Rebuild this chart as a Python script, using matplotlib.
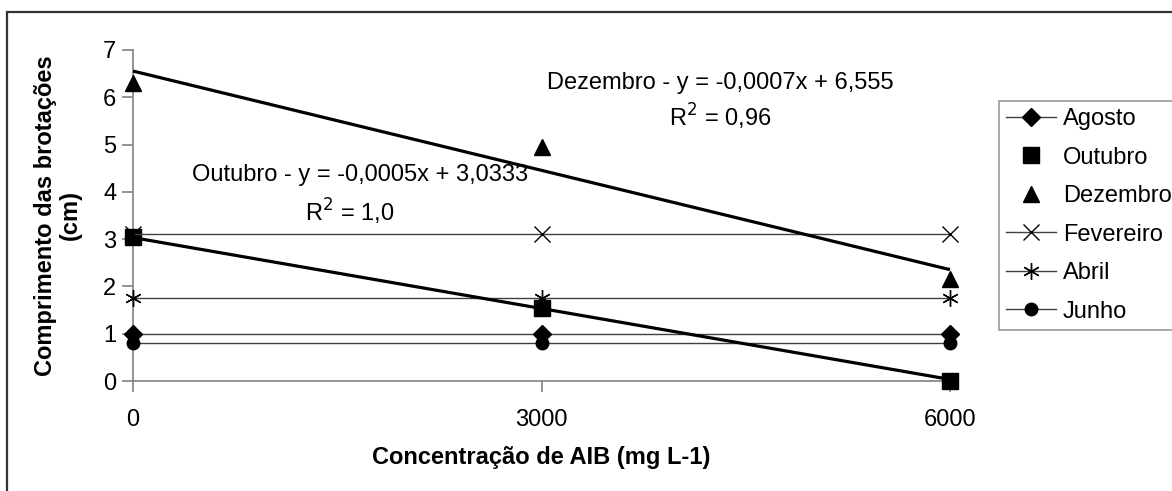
import matplotlib.pyplot as plt
from matplotlib.patches import Rectangle

plt.rcParams['font.family'] = ['Liberation Sans', 'DejaVu Sans']

concentracao = [0, 3000, 6000]
meses = ['Agosto', 'Outubro', 'Dezembro', 'Fevereiro', 'Abril', 'Junho']
agosto = [1.0, 1.0, 1.0]
outubro = [3.05, 1.55, 0.0]
dezembro = [6.3, 4.95, 2.15]
fevereiro = [3.1, 3.1, 3.1]
abril = [1.75, 1.75, 1.75]
junho = [0.8, 0.8, 0.8]

# trend lines (slope, intercept)
trend_outubro = (-0.0005, 3.0333)
trend_dezembro = (-0.0007, 6.555)

W, H = 1172, 491
FS = 17
fig = plt.figure(figsize=(W / 100, H / 100), dpi=100)
ax = fig.add_axes([133 / W, 110 / H, (950 - 133) / W, (381 - 50) / H])

gray = '#808080'
line_c = '#404040'

series = [
    (agosto, 'D', 9, '-'),
    (outubro, 's', 11, 'none'),
    (dezembro, '^', 12, 'none'),
    (fevereiro, 'x', 12, '-'),
    (abril, (6, 2, 0), 12, '-'),
    (junho, 'o', 9, '-'),
]
for name, (vals, m, ms, ls) in zip(meses, series):
    ax.plot(concentracao, vals, linestyle=ls, color=line_c, lw=1.0,
            marker=m, markersize=ms, markerfacecolor='black',
            markeredgecolor='black', markeredgewidth=1.0,
            label=name, clip_on=False, zorder=4)

for slope, inter in [trend_dezembro, trend_outubro]:
    xs = [concentracao[0], concentracao[-1]]
    ax.plot(xs, [slope * x + inter for x in xs], color='black', lw=2.3,
            solid_capstyle='butt', clip_on=False, zorder=5)

ax.set_xlim(0, 6000)
ax.set_ylim(0, 7)
ax.set_xticks(concentracao)
ax.set_yticks(range(8))
ax.tick_params(axis='both', labelsize=FS, colors=gray, labelcolor='black',
               length=8, width=1.2)
ax.tick_params(axis='x', pad=12)
ax.tick_params(axis='y', pad=4)
for s in ['top', 'right']:
    ax.spines[s].set_visible(False)
for s in ['left', 'bottom']:
    ax.spines[s].set_color(gray)
    ax.spines[s].set_linewidth(1.2)

ax.set_xlabel('Concentração de AIB (mg L-1)', fontsize=FS, fontweight='bold',
              labelpad=11)
ax.set_ylabel('Comprimento das brotações\n(cm)', fontsize=FS, fontweight='bold',
              labelpad=15, linespacing=1.1)

ax.text(4311, 6.3, 'Dezembro - y = -0,0007x + 6,555', fontsize=FS,
        ha='center', va='center')
ax.text(4311, 5.58, 'R$^2$ = 0,96', fontsize=FS, ha='center', va='center')
ax.text(1667, 4.36, 'Outubro - y = -0,0005x + 3,0333', fontsize=FS,
        ha='center', va='center')
ax.text(1594, 3.57, 'R$^2$ = 1,0', fontsize=FS, ha='center', va='center')

leg = fig.legend(loc='upper left', bbox_to_anchor=(999 / W, 1 - 101 / H),
                 fontsize=FS, frameon=True, fancybox=False, borderpad=0.3,
                 labelspacing=0.7, handlelength=2.1, handletextpad=0.3,
                 borderaxespad=0)
leg.get_frame().set_edgecolor(gray)
leg.get_frame().set_linewidth(1.2)

fig.patches.append(Rectangle((7 / W, -0.1), 1.2, 1 - 12 / H + 0.1,
                             transform=fig.transFigure, fill=False,
                             edgecolor='#333333', lw=1.6))

fig.savefig('out.png', dpi=100)
